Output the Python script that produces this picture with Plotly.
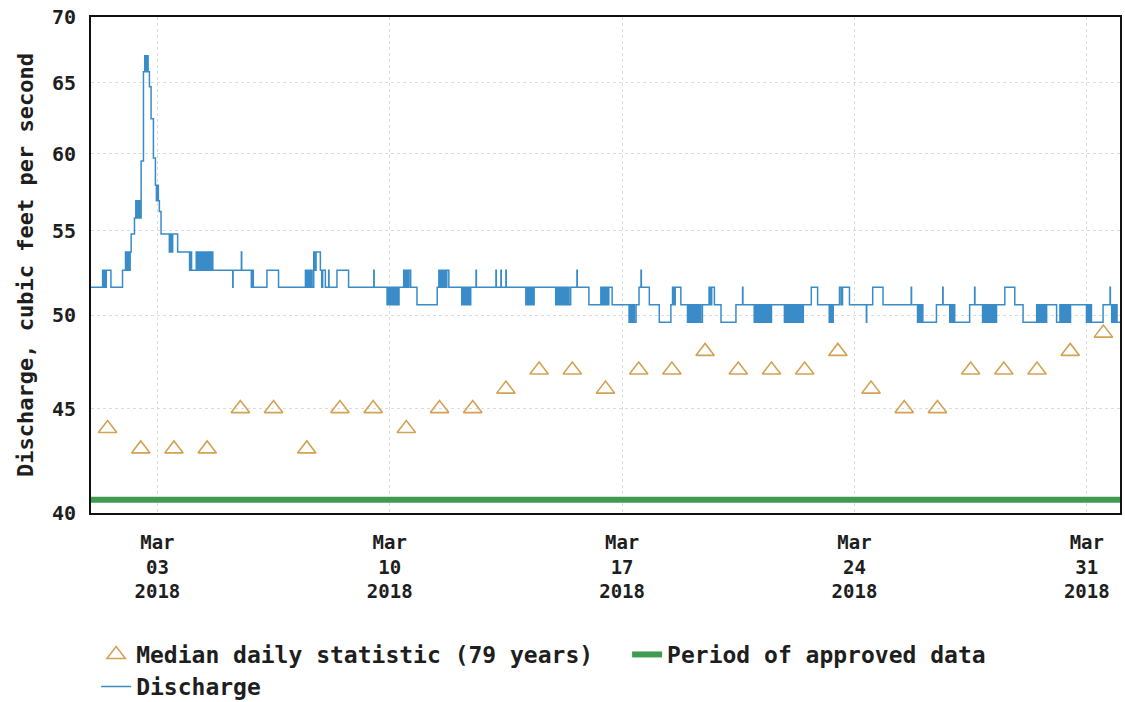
import math
import pandas as pd
import plotly.graph_objects as go

# ---------------- data ----------------
# Median daily statistic (79 years), one value per day of March 2018
median_dates = [f"2018-03-{d:02d} 12:00" for d in range(1, 32)]
median_cfs = [44, 43, 43, 43, 45, 45, 43, 45, 45, 44,
              45, 45, 46, 47, 47, 46, 47, 47, 48, 47,
              47, 47, 48, 46, 45, 45, 47, 47, 47, 48, 49]

# Discharge (cfs): step changes, time given as days after 2018-03-01 00:00
discharge_day = [
    0.00, 0.35, 0.39, 0.42, 0.44, 0.46, 0.60, 0.95, 1.04, 1.08,
    1.12, 1.15, 1.18, 1.21, 1.31, 1.35, 1.39, 1.43, 1.47, 1.51,
    1.58, 1.62, 1.66, 1.69, 1.72, 1.76, 1.81, 1.88, 1.94, 1.97,
    2.00, 2.03, 2.06, 2.11, 2.36, 2.39, 2.42, 2.46, 2.61, 2.97,
    3.00, 3.03, 3.17, 3.21, 3.25, 3.29, 3.33, 3.37, 3.41, 3.45,
    3.49, 3.53, 3.57, 3.61, 3.65, 3.67, 4.27, 4.28, 4.53, 4.54,
    4.83, 4.86, 4.89, 5.30, 5.65, 6.46, 6.50, 6.54, 6.58, 6.62,
    6.66, 6.71, 6.75, 6.78, 6.91, 6.95, 6.98, 7.06, 7.16, 7.17,
    7.41, 7.76, 8.52, 8.53, 8.92, 8.96, 9.00, 9.04, 9.08, 9.12,
    9.16, 9.20, 9.24, 9.28, 9.42, 9.46, 9.50, 9.54, 9.58, 9.63,
    9.82, 10.43, 10.48, 10.52, 10.56, 10.60, 10.64, 10.68, 10.72, 10.78,
    11.17, 11.21, 11.25, 11.29, 11.33, 11.37, 11.40, 11.44, 11.60, 11.61,
    12.20, 12.21, 12.35, 12.36, 12.50, 12.51, 13.10, 13.14, 13.18, 13.22,
    13.26, 13.30, 13.33, 13.35, 14.00, 14.04, 14.08, 14.12, 14.16, 14.20,
    14.24, 14.28, 14.32, 14.36, 14.40, 14.45, 14.64, 14.65, 15.00, 15.36,
    15.40, 15.44, 15.48, 15.52, 15.56, 15.60, 15.70, 16.21, 16.25, 16.29,
    16.33, 16.37, 16.42, 16.51, 16.57, 16.58, 16.82, 17.12, 17.47, 17.52,
    17.56, 17.60, 17.77, 17.97, 18.01, 18.05, 18.09, 18.13, 18.17, 18.21,
    18.25, 18.29, 18.33, 18.37, 18.42, 18.62, 18.66, 18.70, 18.78, 18.98,
    19.43, 19.63, 19.64, 19.98, 20.02, 20.06, 20.10, 20.14, 20.18, 20.22,
    20.26, 20.30, 20.34, 20.38, 20.42, 20.46, 20.50, 20.89, 20.92, 20.95,
    20.98, 21.01, 21.04, 21.07, 21.10, 21.13, 21.16, 21.19, 21.22, 21.25,
    21.28, 21.31, 21.34, 21.37, 21.40, 21.43, 21.46, 21.70, 21.89, 22.24,
    22.28, 22.32, 22.36, 22.55, 22.60, 22.64, 22.85, 23.36, 23.37, 23.55,
    23.86, 24.71, 24.72, 24.90, 24.94, 24.98, 25.02, 25.06, 25.47, 25.66,
    25.67, 25.87, 25.91, 25.95, 25.99, 26.02, 26.47, 26.62, 26.63, 26.86,
    26.90, 26.94, 26.98, 27.02, 27.06, 27.10, 27.14, 27.18, 27.22, 27.26,
    27.28, 27.53, 27.83, 28.08, 28.49, 28.53, 28.57, 28.61, 28.65, 28.69,
    28.73, 28.77, 28.79, 29.09, 29.19, 29.23, 29.27, 29.31, 29.35, 29.39,
    29.43, 29.47, 29.51, 29.99, 30.03, 30.07, 30.10, 30.14, 30.49, 30.70,
    30.71, 30.75, 30.79, 30.83, 30.87, 30.91, 31.00,
]
discharge_cfs = [
    51.6, 52.6, 51.6, 52.6, 51.6, 52.6, 51.6, 52.6, 53.7, 52.6,
    53.7, 52.6, 53.7, 54.8, 55.8, 56.9, 55.8, 56.9, 55.8, 59.5,
    65.8, 67.0, 65.8, 67.0, 65.8, 64.7, 62.4, 59.7, 57.9, 56.9,
    57.9, 56.9, 56.2, 54.8, 53.7, 54.8, 53.7, 54.8, 53.7, 52.6,
    53.7, 52.6, 53.7, 52.6, 53.7, 52.6, 53.7, 52.6, 53.7, 52.6,
    53.7, 52.6, 53.7, 52.6, 53.7, 52.6, 51.6, 52.6, 53.7, 52.6,
    51.6, 52.6, 51.6, 52.6, 51.6, 52.6, 51.6, 52.6, 51.6, 52.6,
    51.6, 53.7, 52.6, 53.7, 52.6, 51.6, 52.6, 51.6, 52.6, 51.6,
    52.6, 51.6, 52.6, 51.6, 50.6, 51.6, 50.6, 51.6, 50.6, 51.6,
    50.6, 51.6, 50.6, 51.6, 52.6, 51.6, 52.6, 51.6, 52.6, 51.6,
    50.6, 51.6, 52.6, 51.6, 52.6, 51.6, 52.6, 51.6, 52.6, 51.6,
    50.6, 51.6, 50.6, 51.6, 50.6, 51.6, 50.6, 51.6, 52.6, 51.6,
    52.6, 51.6, 52.6, 51.6, 52.6, 51.6, 50.6, 51.6, 50.6, 51.6,
    50.6, 51.6, 50.6, 51.6, 50.6, 51.6, 50.6, 51.6, 50.6, 51.6,
    50.6, 51.6, 50.6, 51.6, 50.6, 51.6, 52.6, 51.6, 50.6, 51.6,
    50.6, 51.6, 50.6, 51.6, 50.6, 51.6, 50.6, 49.6, 50.6, 49.6,
    50.6, 49.6, 50.6, 51.6, 52.6, 51.6, 50.6, 49.6, 50.6, 51.6,
    50.6, 51.6, 50.6, 49.6, 50.6, 49.6, 50.6, 49.6, 50.6, 49.6,
    50.6, 49.6, 50.6, 49.6, 50.6, 51.6, 50.6, 51.6, 50.6, 49.6,
    50.6, 51.6, 50.6, 49.6, 50.6, 49.6, 50.6, 49.6, 50.6, 49.6,
    50.6, 49.6, 50.6, 49.6, 50.6, 49.6, 50.6, 49.6, 50.6, 49.6,
    50.6, 49.6, 50.6, 49.6, 50.6, 49.6, 50.6, 49.6, 50.6, 49.6,
    50.6, 49.6, 50.6, 49.6, 50.6, 49.6, 50.6, 51.6, 50.6, 49.6,
    50.6, 49.6, 50.6, 51.6, 50.6, 51.6, 50.6, 49.6, 50.6, 51.6,
    50.6, 51.6, 50.6, 49.6, 50.6, 49.6, 50.6, 49.6, 50.6, 51.6,
    50.6, 49.6, 50.6, 49.6, 50.6, 49.6, 50.6, 51.6, 50.6, 49.6,
    50.6, 49.6, 50.6, 49.6, 50.6, 49.6, 50.6, 49.6, 50.6, 49.6,
    50.6, 51.6, 50.6, 49.6, 50.6, 49.6, 50.6, 49.6, 50.6, 49.6,
    50.6, 49.6, 50.6, 49.6, 50.6, 49.6, 50.6, 49.6, 50.6, 49.6,
    50.6, 49.6, 50.6, 49.6, 50.6, 49.6, 50.6, 49.6, 50.6, 51.6,
    50.6, 49.6, 50.6, 49.6, 50.6, 49.6, 49.6,
]

# Period of approved data
approved_start = "2018-03-01 00:00"
approved_end = "2018-04-01 00:00"

# Axis ticks
x_tick_dates = ["2018-03-03", "2018-03-10", "2018-03-17", "2018-03-24", "2018-03-31"]
x_tick_text = ["Mar<br>03<br>2018", "Mar<br>10<br>2018", "Mar<br>17<br>2018",
               "Mar<br>24<br>2018", "Mar<br>31<br>2018"]
y_tick_vals = [40, 45, 50, 55, 60, 65, 70]
y_tick_text = ["40", "45", "50", "55", "60", "65", "70"]

# ---------------- figure ----------------
origin = pd.Timestamp("2018-03-01 00:00")
discharge_time = [origin + pd.Timedelta(days=d) for d in discharge_day]

FONT = "DejaVu Sans Mono"
TXT = "#1e1e1e"

fig = go.Figure()

fig.add_trace(go.Scatter(
    x=median_dates, y=median_cfs, mode="markers",
    name="Median daily statistic (79 years)",
    marker=dict(symbol="triangle-up-open", size=16, color="#d2a255",
                line=dict(width=1.6, color="#d2a255")),
    legend="legend",
))

fig.add_trace(go.Scatter(
    x=[approved_start, approved_end], y=[40.6, 40.6], mode="lines",
    name="Period of approved data",
    line=dict(color="#3f9a52", width=6),
    legend="legend3",
))

fig.add_trace(go.Scatter(
    x=discharge_time, y=discharge_cfs, mode="lines",
    name="Discharge",
    line=dict(shape="hv", color="#3a8cc8", width=1.5),
    legend="legend2",
))

legend_common = dict(
    orientation="h", xanchor="left", yanchor="top", yref="container",
    font=dict(family=FONT, size=23, color=TXT, weight="bold"),
    itemwidth=30, tracegroupgap=0, bgcolor="rgba(0,0,0,0)",
)

fig.update_layout(
    width=1125, height=702,
    margin=dict(l=91, r=5, t=17, b=189),
    paper_bgcolor="white", plot_bgcolor="white",
    font=dict(family=FONT, size=21, color=TXT),
    showlegend=True,
    legend=dict(x=0.005, y=0.0983, **legend_common),
    legend3=dict(x=0.521, y=0.0983, **legend_common),
    legend2=dict(x=0.005, y=0.0527, **legend_common),
)

fig.update_xaxes(
    type="date", range=[approved_start, approved_end],
    tickmode="array", tickvals=x_tick_dates, ticktext=x_tick_text,
    tickfont=dict(family=FONT, size=19, color=TXT, weight="bold"),
    showgrid=True, gridcolor="#dcdcdc", griddash="dot", gridwidth=1,
    showline=True, linecolor="#111", linewidth=2, mirror=True,
    ticks="", ticklabelstandoff=11, zeroline=False, automargin=False,
)

fig.update_yaxes(
    type="log", range=[math.log10(40), math.log10(70)],
    tickmode="array", tickvals=y_tick_vals, ticktext=y_tick_text,
    tickfont=dict(family=FONT, size=20, color=TXT, weight="bold"),
    showgrid=True, gridcolor="#dcdcdc", griddash="dot", gridwidth=1,
    showline=True, linecolor="#111", linewidth=2, mirror=True,
    ticks="", ticklabelstandoff=9, zeroline=False, automargin=False,
    title=dict(text="Discharge, cubic feet per second",
               font=dict(family=FONT, size=22, color=TXT, weight="bold"),
               standoff=12),
)

fig.write_html(
    "out.html",
    config={"displayModeBar": False},
    post_script="document.body.style.margin='0';document.body.style.overflow='hidden';",
)
